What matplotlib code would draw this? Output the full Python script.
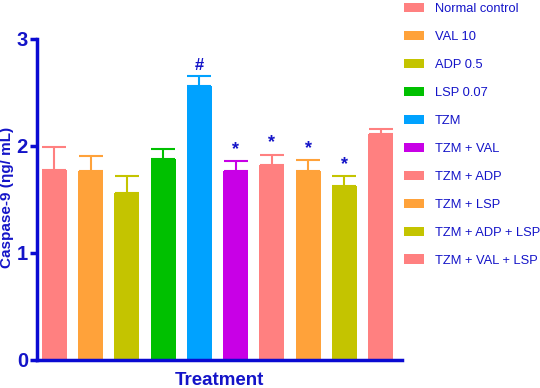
import numpy as np
import matplotlib.pyplot as plt
from matplotlib.patches import Patch

# data
groups = ['Normal control', 'VAL 10', 'ADP 0.5', 'LSP 0.07', 'TZM', 'TZM + VAL',
          'TZM + ADP', 'TZM + LSP', 'TZM + ADP + LSP', 'TZM + VAL + LSP']
means = [1.78, 1.77, 1.56, 1.88, 2.56, 1.77, 1.82, 1.77, 1.63, 2.11]
errors = [0.21, 0.14, 0.16, 0.095, 0.09, 0.09, 0.10, 0.10, 0.09, 0.05]
marks = ['', '', '', '', '#', '*', '*', '*', '*', '']
colors = ['#FF8080', '#FFA23A', '#C4C400', '#00C000', '#00A2FF', '#C800E6',
          '#FF8080', '#FFA23A', '#C4C400', '#FF8080']
yticks = [0, 1, 2, 3]

blue = '#1414C8'
plt.rcParams['font.family'] = ['Liberation Sans', 'DejaVu Sans']

fig = plt.figure(figsize=(5.4, 3.88), dpi=100)
ax = fig.add_axes([0.0685, 0.0722, 0.6755, 0.8273])

x = np.arange(len(groups))
ax.bar(x, means, width=0.69, color=colors, zorder=2)
for i in range(len(groups)):
    ax.errorbar(x[i], means[i], yerr=[[0], [errors[i]]], fmt='none',
                ecolor=colors[i], elinewidth=1.5, capsize=8.5, capthick=1.5, zorder=1)
    if marks[i]:
        ax.text(x[i], means[i] + errors[i] + 0.03, marks[i], ha='center', va='bottom',
                color=blue, fontsize=13 if marks[i] == '*' else 12, fontweight='bold')

ax.set_xlim(-0.48, 9.58)
ax.set_ylim(0, 3)
ax.set_yticks(yticks)
ax.set_yticklabels([str(t) for t in yticks], fontsize=14.5, fontweight='bold', color=blue)
ax.set_xticks([])
for side in ['top', 'right']:
    ax.spines[side].set_visible(False)
for side in ['left', 'bottom']:
    ax.spines[side].set_color('#0A0AD2')
    ax.spines[side].set_linewidth(2.5)
ax.tick_params(axis='y', colors='#0A0AD2', width=2.5, length=5, pad=1.5)
ax.tick_params(axis='y', labelcolor=blue)

fig.text(0.0135, 0.492, 'Caspase-9 (\u03b7g/ mL)', rotation=90, ha='center', va='center',
         fontsize=11, fontweight='bold', color=blue)
ax.set_xlabel('Treatment', fontsize=13.5, fontweight='bold', color=blue, labelpad=9)

handles = [Patch(facecolor=c) for c in colors]
leg = fig.legend(handles, groups, loc='upper left', bbox_to_anchor=(0.748, 0.992),
                 frameon=False, fontsize=9.3, handlelength=1.55, handleheight=0.7,
                 handletextpad=0.85, labelspacing=1.23, borderpad=0, borderaxespad=0,
                 labelcolor=blue)

plt.savefig('out.png', dpi=100)
